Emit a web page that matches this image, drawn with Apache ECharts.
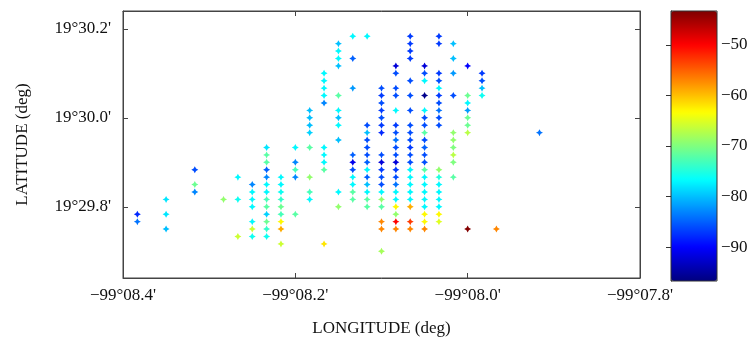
<!DOCTYPE html>
<html>
<head>
<meta charset="utf-8">
<script src="https://cdn.jsdelivr.net/npm/echarts@6/dist/echarts.min.js"></script>
<style>
  html, body { margin: 0; padding: 0; background: #fff; }
  #chart { width: 752px; height: 342px; }
</style>
</head>
<body>
<div id="chart"></div>
<script>
// Survey points: longitude as arc-seconds after -99° (negative = west),
// latitude as arc-seconds after 19°, and received signal level (dBm).
const lonSec = [
  -503, -503,
  -501, -501, -501,
  -499, -499, -499,
  -497,
  -496, -496, -496,
  -495, -495, -495, -495, -495, -495, -495,
  -494, -494, -494, -494, -494, -494, -494, -494, -494, -494, -494, -494, -494,
  -493, -493, -493, -493, -493, -493, -493, -493, -493,
  -492, -492, -492, -492, -492,
  -491, -491, -491, -491, -491, -491, -491, -491,
  -490, -490, -490, -490, -490, -490, -490, -490, -490, -490,
  -489, -489, -489, -489, -489, -489, -489, -489, -489, -489, -489,
  -488, -488, -488, -488, -488, -488, -488, -488, -488, -488,
  -487, -487, -487, -487, -487, -487, -487, -487, -487, -487, -487, -487, -487,
  -486, -486, -486, -486, -486, -486, -486, -486, -486, -486, -486, -486, -486, -486, -486, -486, -486, -486,
  -485, -485, -485, -485, -485, -485, -485, -485, -485, -485, -485, -485, -485, -485, -485, -485, -485, -485, -485, -485,
  -484, -484, -484, -484, -484, -484, -484, -484, -484, -484, -484, -484, -484, -484, -484, -484, -484, -484, -484, -484, -484,
  -483, -483, -483, -483, -483, -483, -483, -483, -483, -483, -483, -483, -483, -483, -483, -483, -483, -483, -483, -483, -483,
  -482, -482, -482, -482, -482, -482, -482, -482, -482, -482, -482, -482, -482, -482, -482, -482, -482, -482,
  -481, -481, -481, -481, -481, -481, -481, -481, -481, -481,
  -480, -480, -480, -480, -480, -480, -480, -480,
  -479, -479, -479, -479,
  -478,
  -475
];
const latSec = [
  1787, 1786,
  1789, 1787, 1785,
  1793, 1791, 1790,
  1789,
  1792, 1789, 1784,
  1791, 1790, 1789, 1788, 1786, 1785, 1784,
  1796, 1795, 1794, 1793, 1792, 1791, 1790, 1789, 1788, 1787, 1786, 1785, 1784,
  1792, 1791, 1790, 1789, 1788, 1787, 1786, 1785, 1783,
  1796, 1794, 1793, 1792, 1787,
  1801, 1800, 1799, 1798, 1796, 1792, 1790, 1789,
  1806, 1805, 1804, 1803, 1802, 1796, 1795, 1794, 1793, 1783,
  1810, 1809, 1808, 1807, 1803, 1801, 1800, 1799, 1797, 1790, 1788,
  1811, 1808, 1804, 1795, 1794, 1793, 1792, 1791, 1790, 1789,
  1811, 1799, 1798, 1797, 1796, 1795, 1794, 1793, 1792, 1791, 1790, 1789, 1788,
  1804, 1803, 1802, 1801, 1800, 1799, 1798, 1795, 1794, 1793, 1792, 1791, 1790, 1789, 1788, 1786, 1785, 1782,
  1807, 1806, 1804, 1803, 1801, 1799, 1798, 1797, 1796, 1795, 1794, 1793, 1792, 1791, 1790, 1789, 1788, 1787, 1786, 1785,
  1811, 1810, 1809, 1808, 1805, 1803, 1801, 1799, 1798, 1797, 1796, 1795, 1794, 1793, 1792, 1791, 1790, 1789, 1788, 1786, 1785,
  1807, 1806, 1805, 1803, 1801, 1800, 1799, 1798, 1797, 1796, 1795, 1794, 1793, 1792, 1791, 1790, 1789, 1788, 1787, 1786, 1785,
  1811, 1810, 1806, 1805, 1804, 1803, 1802, 1801, 1800, 1799, 1793, 1792, 1791, 1790, 1789, 1788, 1787, 1786,
  1810, 1808, 1806, 1803, 1798, 1797, 1796, 1795, 1794, 1792,
  1807, 1803, 1802, 1801, 1800, 1799, 1798, 1785,
  1806, 1805, 1804, 1803,
  1785,
  1798
];
const level = [
  -88, -84,
  -78, -78, -80,
  -86, -71, -83,
  -69,
  -77, -76, -66,
  -83, -77, -77, -77, -77, -66, -76,
  -78, -72, -72, -85, -83, -77, -77, -73, -72, -79, -71, -74, -76,
  -77, -77, -76, -74, -71, -73, -63, -59, -66,
  -77, -83, -73, -83, -72,
  -80, -80, -80, -79, -72, -69, -73, -77,
  -77, -77, -77, -77, -83, -77, -77, -77, -72, -62,
  -80, -77, -77, -80, -72, -77, -80, -77, -80, -77, -69,
  -77, -85, -82, -85, -91, -86, -77, -77, -72, -72,
  -77, -86, -80, -86, -86, -86, -85, -77, -85, -80, -77, -72, -72,
  -86, -87, -86, -87, -86, -87, -88, -86, -92, -87, -86, -86, -77, -69, -72, -57, -57, -68,
  -92, -86, -86, -86, -77, -87, -86, -84, -86, -86, -92, -87, -86, -84, -77, -77, -63, -69, -50, -57,
  -87, -87, -87, -87, -86, -86, -86, -86, -86, -86, -87, -86, -86, -77, -77, -77, -77, -77, -59, -53, -57,
  -92, -86, -77, -96, -77, -86, -86, -72, -86, -85, -86, -86, -72, -77, -77, -77, -77, -77, -63, -63, -57,
  -87, -87, -87, -86, -77, -87, -86, -84, -86, -86, -69, -75, -77, -77, -77, -77, -63, -65,
  -80, -80, -82, -86, -69, -69, -70, -67, -70, -72,
  -90, -71, -77, -82, -71, -71, -67, -43.5,
  -87, -86, -80, -76,
  -57,
  -84
];

// Axis ticks (arc-seconds) and colour scale limits
const lonTicks = [-504, -492, -480, -468];
const latTicks = [1788, 1800, 1812];
const levelTicks = [-90, -80, -70, -60, -50];
const levelMin = -96.7, levelMax = -43.3;

const points = lonSec.map((x, i) => [x, latSec[i], level[i]]);

const jet = ['#00007f', '#0000ff', '#007fff', '#00ffff', '#7fff7f',
             '#ffff00', '#ff7f00', '#ff0000', '#7f0000'];

const serif = 'Liberation Serif';
const ink = '#111';
const frame = '#444';
const minus = s => s.replace('-', '\u2212');

const lonLabel = v => '\u221299\u00b00' + (-v / 60).toFixed(1) + "'";
const latLabel = v => '19\u00b0' + (v / 60).toFixed(1) + "'";

const chart = echarts.init(document.getElementById('chart'), null, { renderer: 'canvas' });

chart.setOption({
  animation: false,
  backgroundColor: '#fff',
  grid: [
    { left: 123, top: 11, width: 517, height: 269, show: true,
      borderColor: frame, borderWidth: 1, backgroundColor: 'transparent', z: 10 },
    { left: 671, top: 11, width: 46, height: 270, show: true,
      borderColor: '#333', borderWidth: 1, backgroundColor: 'transparent', z: 10 }
  ],
  xAxis: [
    { type: 'value', gridIndex: 0, min: -504, max: -468, interval: 12,
      name: 'LONGITUDE (deg)', nameLocation: 'middle', nameGap: 42,
      nameTextStyle: { fontFamily: serif, fontSize: 17, color: ink },
      axisLine: { show: true, onZero: false, lineStyle: { color: frame } },
      axisTick: { inside: true, length: 5, lineStyle: { color: frame } },
      axisLabel: { fontFamily: serif, fontSize: 17, color: ink, margin: 9,
                   formatter: lonLabel, customValues: lonTicks },
      splitLine: { show: false } },
    { type: 'value', gridIndex: 0, position: 'top', min: -504, max: -468, interval: 12,
      axisLine: { show: true, onZero: false, lineStyle: { color: frame } },
      axisTick: { inside: true, length: 5, lineStyle: { color: frame } },
      axisLabel: { show: false }, splitLine: { show: false } },
    { type: 'value', gridIndex: 1, min: 0, max: 1, show: false }
  ],
  yAxis: [
    { type: 'value', gridIndex: 0, min: 1778.4, max: 1814.4,
      name: 'LATITUDE (deg)', nameLocation: 'middle', nameGap: 92, nameRotate: 90,
      nameTextStyle: { fontFamily: serif, fontSize: 17, color: ink },
      axisLine: { show: true, onZero: false, lineStyle: { color: frame } },
      axisTick: { inside: true, length: 5, customValues: latTicks, lineStyle: { color: frame } },
      axisLabel: { fontFamily: serif, fontSize: 17, color: ink, margin: 12,
                   formatter: latLabel, customValues: latTicks },
      splitLine: { show: false } },
    { type: 'value', gridIndex: 0, position: 'right', min: 1778.4, max: 1814.4,
      axisLine: { show: true, onZero: false, lineStyle: { color: frame } },
      axisTick: { inside: true, length: 5, customValues: latTicks, lineStyle: { color: frame } },
      axisLabel: { show: false }, splitLine: { show: false } },
    { type: 'value', gridIndex: 1, position: 'right', min: levelMin, max: levelMax,
      axisLine: { show: true, lineStyle: { color: '#333' } },
      axisTick: { inside: true, length: 5, customValues: levelTicks, lineStyle: { color: '#333' } },
      axisLabel: { fontFamily: serif, fontSize: 17, color: ink, margin: 4,
                   formatter: v => minus(String(v)), customValues: levelTicks },
      splitLine: { show: false } }
  ],
  visualMap: {
    type: 'continuous',
    seriesIndex: 0,
    dimension: 2,
    min: levelMin,
    max: levelMax,
    calculable: false,
    hoverLink: false,
    realtime: false,
    orient: 'vertical',
    left: 671,
    top: 11,
    padding: 0,
    itemWidth: 46,
    itemHeight: 270,
    text: null,
    showLabel: false,
    inRange: { color: jet }
  },
  series: [
    { type: 'scatter', xAxisIndex: 0, yAxisIndex: 0, data: points,
      symbol: 'path://M0,-10 L3.5,-3.5 L10,0 L3.5,3.5 L0,10 L-3.5,3.5 L-10,0 L-3.5,-3.5 Z',
      symbolSize: 7, itemStyle: { opacity: 1 } },
    { type: 'scatter', xAxisIndex: 2, yAxisIndex: 2, data: [] }
  ]
});
</script>
</body>
</html>
